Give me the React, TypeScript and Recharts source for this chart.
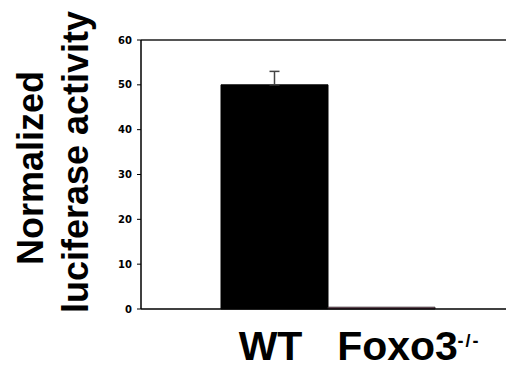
import React from 'react';
import { BarChart, Bar, XAxis, YAxis, ErrorBar, ReferenceLine, LabelList } from 'recharts';

const categories = ['luciferase'];
const seriesNames = ['WT', 'Foxo3'];
const seriesSuper = ['', '-/-'];
const seriesValues = [50, 0.4];
const seriesErrUp = [3, 0];
const yTicks = [0, 10, 20, 30, 40, 50, 60];

const fills = ['#000000', '#b8507e'];
const strokes = ['#000000', '#333333'];
const labelShift = [-4, 16];

const data = categories.map((c) => {
  const row: any = { name: c };
  seriesNames.forEach((s, i) => {
    row[s] = seriesValues[i];
    row[s + 'Err'] = [0, seriesErrUp[i]];
  });
  return row;
});

const bigFont = '"Liberation Sans", Arial, sans-serif';

function YLabel() {
  return (
    <g>
      <text x={43} y={168} transform="rotate(-90 43 168)" textAnchor="middle"
        fontFamily={bigFont} fontWeight="bold" fontSize={36} fill="#000">
        Normalized
      </text>
      <text x={88} y={162} transform="rotate(-90 88 162)" textAnchor="middle"
        fontFamily={bigFont} fontWeight="bold" fontSize={36} fill="#000">
        luciferase activity
      </text>
    </g>
  );
}

function makeLabel(i: number) {
  return (props: any) => {
    const { x, y, width, height } = props;
    const cx = x + width / 2 + labelShift[i];
    const base = y + height + 51;
    return (
      <text x={cx} y={base} textAnchor="middle" fontFamily={bigFont}
        fontWeight="bold" fontSize={41} fill="#000">
        {seriesNames[i]}
      </text>
    );
  };
}

function makeSuper(i: number) {
  return (props: any) => {
    const { x, y, width, height } = props;
    if (!seriesSuper[i]) return null;
    const cx = x + width / 2 + labelShift[i] + 60;
    const base = y + height + 38;
    return (
      <text x={cx} y={base} textAnchor="start" fontFamily={bigFont}
        fontWeight="bold" fontSize={18} letterSpacing={2} fill="#000">
        {seriesSuper[i]}
      </text>
    );
  };
}

export default function App() {
  return (
    <div style={{ marginLeft: -8, marginTop: -8, background: '#fff' }}>
      <BarChart width={514} height={373} data={data} barGap={0}
        margin={{ top: 40, right: 0, bottom: 34, left: 0 }}>
        <XAxis dataKey="name" height={30} tick={false} tickLine={false}
          axisLine={{ stroke: '#000', strokeWidth: 1.5 }} />
        <YAxis width={141} domain={[0, 60]} ticks={yTicks} interval={0}
          tickSize={4} tickMargin={5}
          axisLine={{ stroke: '#000', strokeWidth: 1.5 }}
          tickLine={{ stroke: '#000' }}
          tick={{ fontFamily: '"DejaVu Sans", Verdana, sans-serif', fontWeight: 'bold', fontSize: 10, fill: '#000' }}
          label={{ content: () => <YLabel /> }} />
        <ReferenceLine y={60} stroke="#555" strokeWidth={2} />
        {seriesNames.map((s, i) => (
          <Bar key={s} dataKey={s} barSize={107} fill={fills[i]} stroke={strokes[i]}
            strokeWidth={1} isAnimationActive={false}>
            {seriesErrUp[i] > 0 && (
              <ErrorBar dataKey={s + 'Err'} direction="y" width={5} stroke="#444" strokeWidth={1.5} />
            )}
            <LabelList dataKey={s} content={makeLabel(i)} />
            <LabelList dataKey={s} content={makeSuper(i)} />
          </Bar>
        ))}
      </BarChart>
    </div>
  );
}
